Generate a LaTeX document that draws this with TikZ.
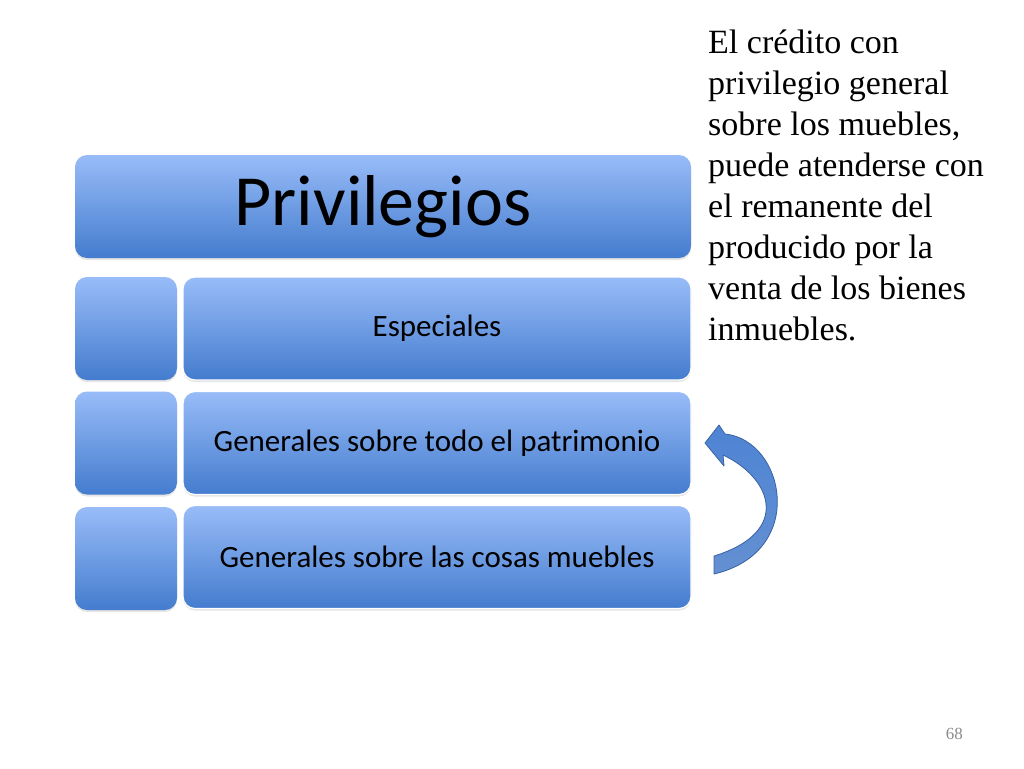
\documentclass[tikz,border=0pt]{standalone}
\usepackage{fontspec}
\setmainfont{Liberation Serif}
\newfontfamily\calibri{Carlito}
\usetikzlibrary{shadows}
\definecolor{boxtop}{RGB}{152,188,248}
\definecolor{boxbot}{RGB}{68,124,206}
\definecolor{arrowtop}{RGB}{78,132,212}
\definecolor{arrowbot}{RGB}{100,144,210}
\definecolor{arrowline}{RGB}{58,98,162}
\tikzset{
  box/.style={rounded corners=12pt, top color=boxtop, bottom color=boxbot,
    inner sep=0pt, text=black, font=\calibri\fontsize{31}{37}\selectfont,
    drop shadow={opacity=0.2, shadow xshift=0pt, shadow yshift=-2pt}},
  tab/.style={box, minimum width=102pt, minimum height=103pt},
  item/.style={box, draw=white, line width=1.2pt, minimum width=508pt, minimum height=103pt},
}
\begin{document}
\begin{tikzpicture}[x=1pt,y=-1pt]
\useasboundingbox[fill=white] (0,0) rectangle (1024,768);
% title bar
    \node[box, minimum width=616pt, minimum height=103pt,
      font=\calibri\fontsize{72}{86}\selectfont] (priv) at (383,206.5) {Privilegios};

% rows
    \node[tab] (t1) at (126,328.5) {};
    \node[tab] (t2) at (126,443) {};
    \node[tab] (t3) at (126,558.5) {};

    \node[item] (esp) at (437,328.5) {Especiales};
    \node[item] (gpat) at (437,443) {Generales sobre todo el patrimonio};
    \node[item] (gmue) at (437,557) {Generales sobre las cosas muebles};

% curved arrow
    \coordinate (tailtop) at (714,556);
    \coordinate (tailbot) at (714,574);
    \coordinate (headlow) at (723,455);
    \coordinate (barblow) at (724,466);
    \coordinate (tip) at (705,443);
    \coordinate (barbup) at (719,425);
    \coordinate (headup) at (725,434);

    \draw[top color=arrowtop, bottom color=arrowbot, draw=arrowline, line width=0.8pt, line join=round]
      (headup) .. controls (785,440) and (808,552) .. (tailbot)
      -- (tailtop) .. controls (792,532) and (772,478) .. (headlow)
      -- (barblow) -- (tip) -- (barbup) -- cycle;

% note
    \node[anchor=base west, inner sep=0pt, align=left,
      font=\fontsize{34}{41}\selectfont] (note) at (708,340)
      {El crédito con\\ privilegio general\\ sobre los muebles,\\ puede atenderse con\\
       el remanente del\\ producido por la\\ venta de los bienes\\ inmuebles.};

    \node[anchor=base east, inner sep=0pt, text=black!45,
      font=\fontsize{17}{20}\selectfont] (pagenum) at (963,739) {68};
\end{tikzpicture}
\end{document}
